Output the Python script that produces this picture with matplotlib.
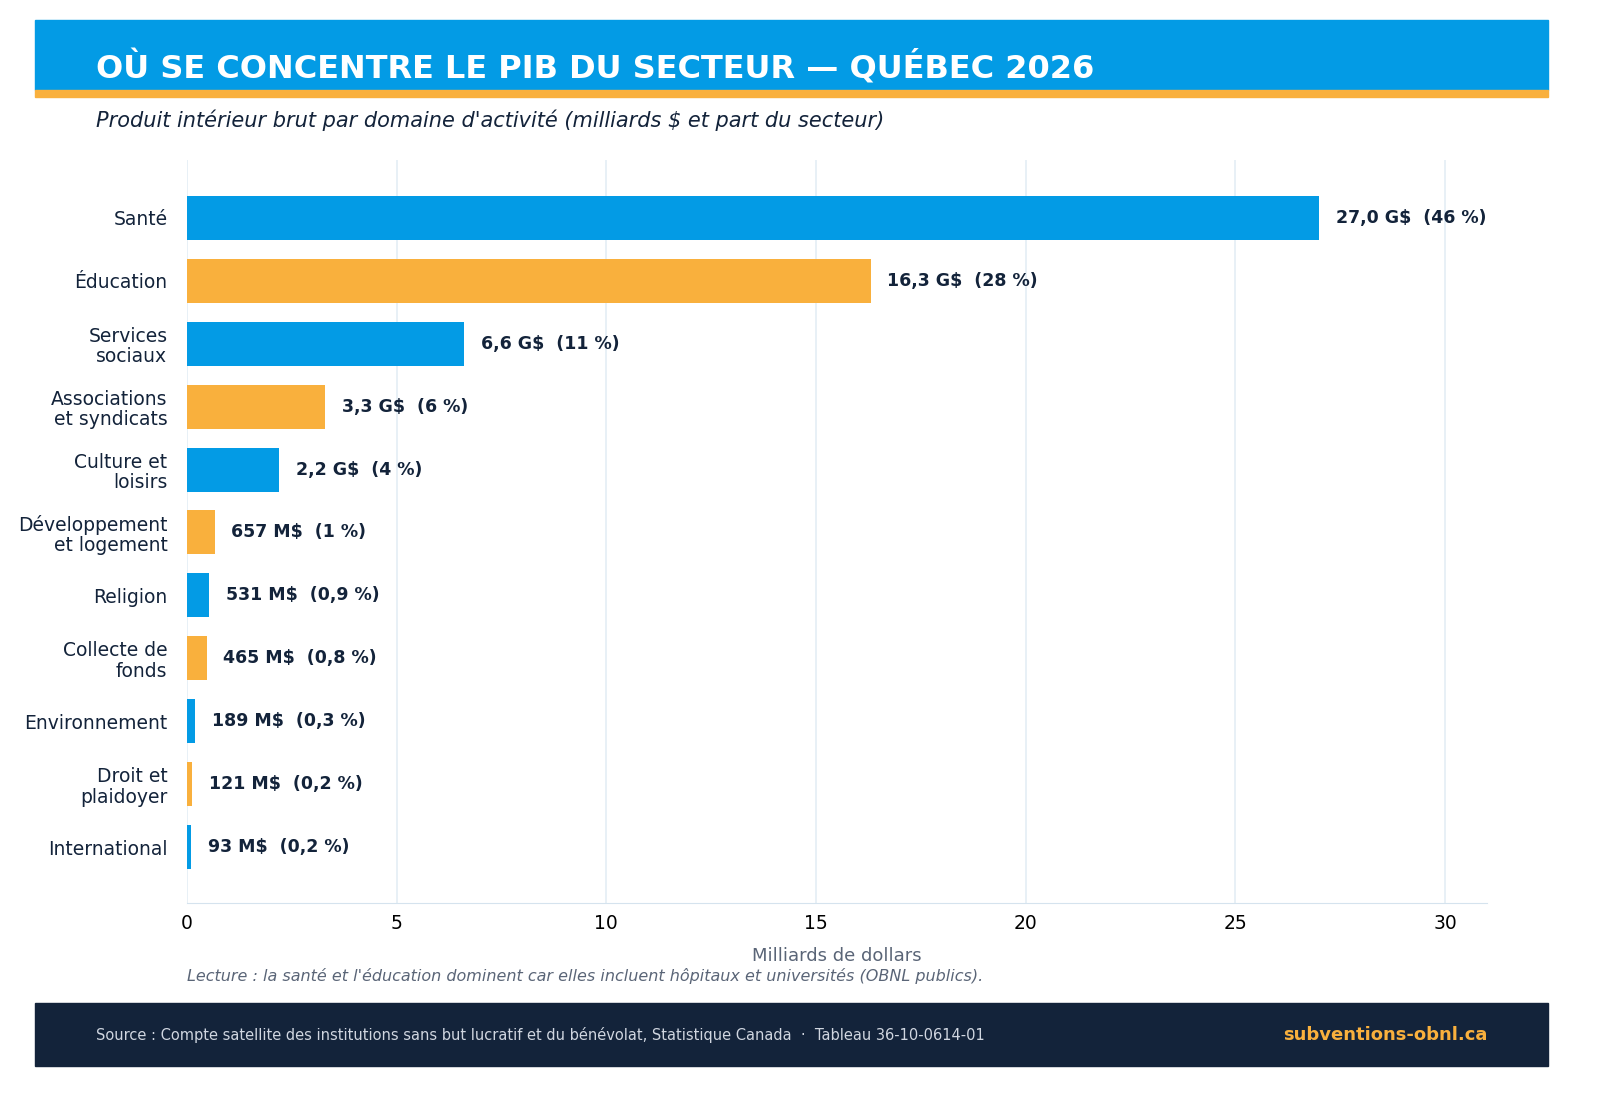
import matplotlib.pyplot as plt
from matplotlib.patches import Rectangle

# ~~~ Data ~~~
categories = ["Santé", "Éducation", "Services\nsociaux", "Associations\net syndicats",
              "Culture et\nloisirs", "Développement\net logement", "Religion",
              "Collecte de\nfonds", "Environnement", "Droit et\nplaidoyer", "International"]
values = [27.0, 16.3, 6.6, 3.3, 2.2, 0.657, 0.531, 0.465, 0.189, 0.121, 0.093]
labels = ["27,0 G$  (46 %)", "16,3 G$  (28 %)", "6,6 G$  (11 %)", "3,3 G$  (6 %)",
          "2,2 G$  (4 %)", "657 M$  (1 %)", "531 M$  (0,9 %)", "465 M$  (0,8 %)",
          "189 M$  (0,3 %)", "121 M$  (0,2 %)", "93 M$  (0,2 %)"]
xticks = [0, 5, 10, 15, 20, 25, 30]

BLUE = "#039BE5"
ORANGE = "#F9B03D"
DARK = "#13233A"

fig = plt.figure(figsize=(16, 11.08), dpi=100)

# header and footer bands
fig.patches.append(Rectangle((35/1600, 1-90/1108), 1513/1600, 70/1108,
                             transform=fig.transFigure, color=BLUE, zorder=0))
fig.patches.append(Rectangle((35/1600, 1-97/1108), 1513/1600, 7/1108,
                             transform=fig.transFigure, color=ORANGE, zorder=0))
fig.patches.append(Rectangle((35/1600, 1-1066/1108), 1513/1600, 63/1108,
                             transform=fig.transFigure, color=DARK, zorder=0))
fig.text(96/1600, 1-68/1108, "OÙ SE CONCENTRE LE PIB DU SECTEUR — QUÉBEC 2026",
         color="white", fontsize=23, fontweight="bold", va="center")
fig.text(96/1600, 1-120/1108,
         "Produit intérieur brut par domaine d'activité (milliards $ et part du secteur)",
         color=DARK, fontsize=15, style="italic", va="center")
fig.text(187/1600, 1-976/1108,
         "Lecture : la santé et l'éducation dominent car elles incluent hôpitaux et universités (OBNL publics).",
         color="#5A6577", fontsize=11.5, style="italic", va="center")
fig.text(96/1600, 1-1035/1108,
         "Source : Compte satellite des institutions sans but lucratif et du bénévolat, Statistique Canada  ·  Tableau 36-10-0614-01",
         color="#D0D6E0", fontsize=10.5, va="center")
fig.text(1487/1600, 1-1035/1108, "subventions-obnl.ca", color=ORANGE,
         fontsize=13, fontweight="bold", va="center", ha="right")

ax = fig.add_axes([187/1600, 1-903/1108, 1300/1600, 743/1108])
colors = [BLUE if i % 2 == 0 else ORANGE for i in range(len(values))]
ax.barh(range(len(values)), values, height=0.7, color=colors, zorder=3)
for i, (v, lab) in enumerate(zip(values, labels)):
    ax.text(v + 0.4, i, lab, va="center", ha="left", fontsize=12.5,
            fontweight="bold", color=DARK)

ax.set_yticks(range(len(values)))
ax.set_yticklabels(categories, fontsize=13.5, color=DARK, linespacing=1.1)
ax.set_ylim(10.89, -0.92)
ax.set_xlim(0, 31)
ax.set_xticks(xticks)
ax.tick_params(axis="x", labelsize=13.5, length=0, pad=8)
ax.tick_params(axis="y", length=0, pad=14)
ax.grid(axis="x", color="#E4EEF5", linewidth=1.2, zorder=0)
for s in ["top", "right", "left"]:
    ax.spines[s].set_visible(False)
ax.spines["bottom"].set_color("#D5E3EE")
ax.set_xlabel("Milliards de dollars", fontsize=13, color="#5A6577", labelpad=10)

fig.savefig("out.png", dpi=100)
